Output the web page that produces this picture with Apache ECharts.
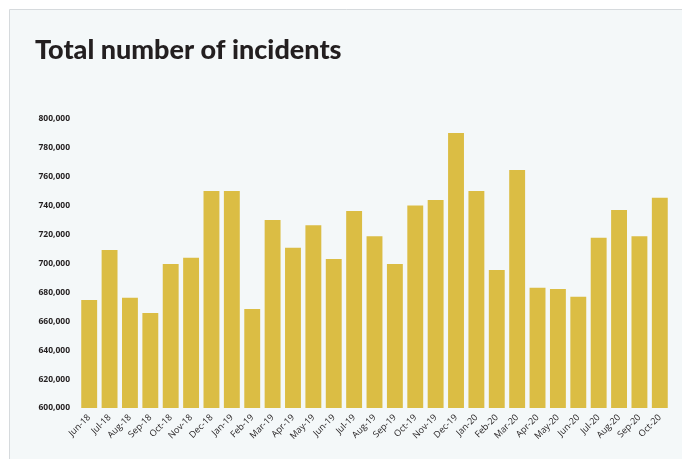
<!DOCTYPE html>
<html>
<head>
<meta charset="utf-8">
<title>Total number of incidents</title>
<script src="https://cdn.jsdelivr.net/npm/echarts@6/dist/echarts.min.js"></script>
<style>
  html, body { margin: 0; padding: 0; background: #ffffff; }
  #chart { width: 682px; height: 459px; }
</style>
</head>
<body>
<div id="chart"></div>
<script>
// Monthly totals, June 2018 – October 2020
const months = [
  'Jun-18', 'Jul-18', 'Aug-18', 'Sep-18', 'Oct-18', 'Nov-18', 'Dec-18',
  'Jan-19', 'Feb-19', 'Mar-19', 'Apr-19', 'May-19', 'Jun-19', 'Jul-19',
  'Aug-19', 'Sep-19', 'Oct-19', 'Nov-19', 'Dec-19', 'Jan-20', 'Feb-20',
  'Mar-20', 'Apr-20', 'May-20', 'Jun-20', 'Jul-20', 'Aug-20', 'Sep-20',
  'Oct-20'
];
const incidents = [
  674700, 709300, 676300, 665700, 699600, 704000, 750200,
  750200, 668500, 730100, 710900, 726400, 703100, 736300,
  718800, 699600, 740200, 743900, 790300, 750200, 695500,
  764700, 683300, 682300, 677000, 717900, 737000, 718800,
  745500
];
const yTicks = { min: 600000, max: 800000, step: 20000 };

const fmt = v => String(v).replace(/\B(?=(\d{3})+(?!\d))/g, ',');

const chart = echarts.init(document.getElementById('chart'), null, { renderer: 'canvas' });
chart.setOption({
  backgroundColor: '#ffffff',
  animation: false,
  graphic: [
    {
      type: 'rect',
      left: 9, top: 9,
      shape: { width: 700, height: 470 },
      style: { fill: '#f4f8f9', stroke: '#d6dadd', lineWidth: 1 },
      z: -10
    },
    {
      type: 'text',
      left: 35, top: 37,
      style: {
        text: 'Total number of incidents',
        fill: '#231f20',
        font: '900 27px Lato, "Open Sans", sans-serif'
      }
    }
  ],
  grid: { left: 79, right: 12, top: 119, bottom: 51, containLabel: false },
  xAxis: {
    type: 'category',
    data: months,
    axisLine: { show: false },
    axisTick: { show: false },
    axisLabel: {
      rotate: 45,
      interval: 0,
      margin: 8,
      color: '#231f20',
      fontSize: 9,
      fontFamily: '"Open Sans", sans-serif'
    }
  },
  yAxis: {
    type: 'value',
    min: yTicks.min,
    max: yTicks.max,
    interval: yTicks.step,
    axisLine: { show: false },
    axisTick: { show: false },
    splitLine: { show: false },
    axisLabel: {
      margin: 9,
      color: '#231f20',
      fontSize: 8.5,
      fontWeight: 'bold',
      fontFamily: '"Open Sans", sans-serif',
      formatter: fmt
    }
  },
  series: [{
    type: 'bar',
    data: incidents,
    barCategoryGap: '22%',
    itemStyle: { color: '#dbbd44' }
  }]
});
</script>
</body>
</html>
